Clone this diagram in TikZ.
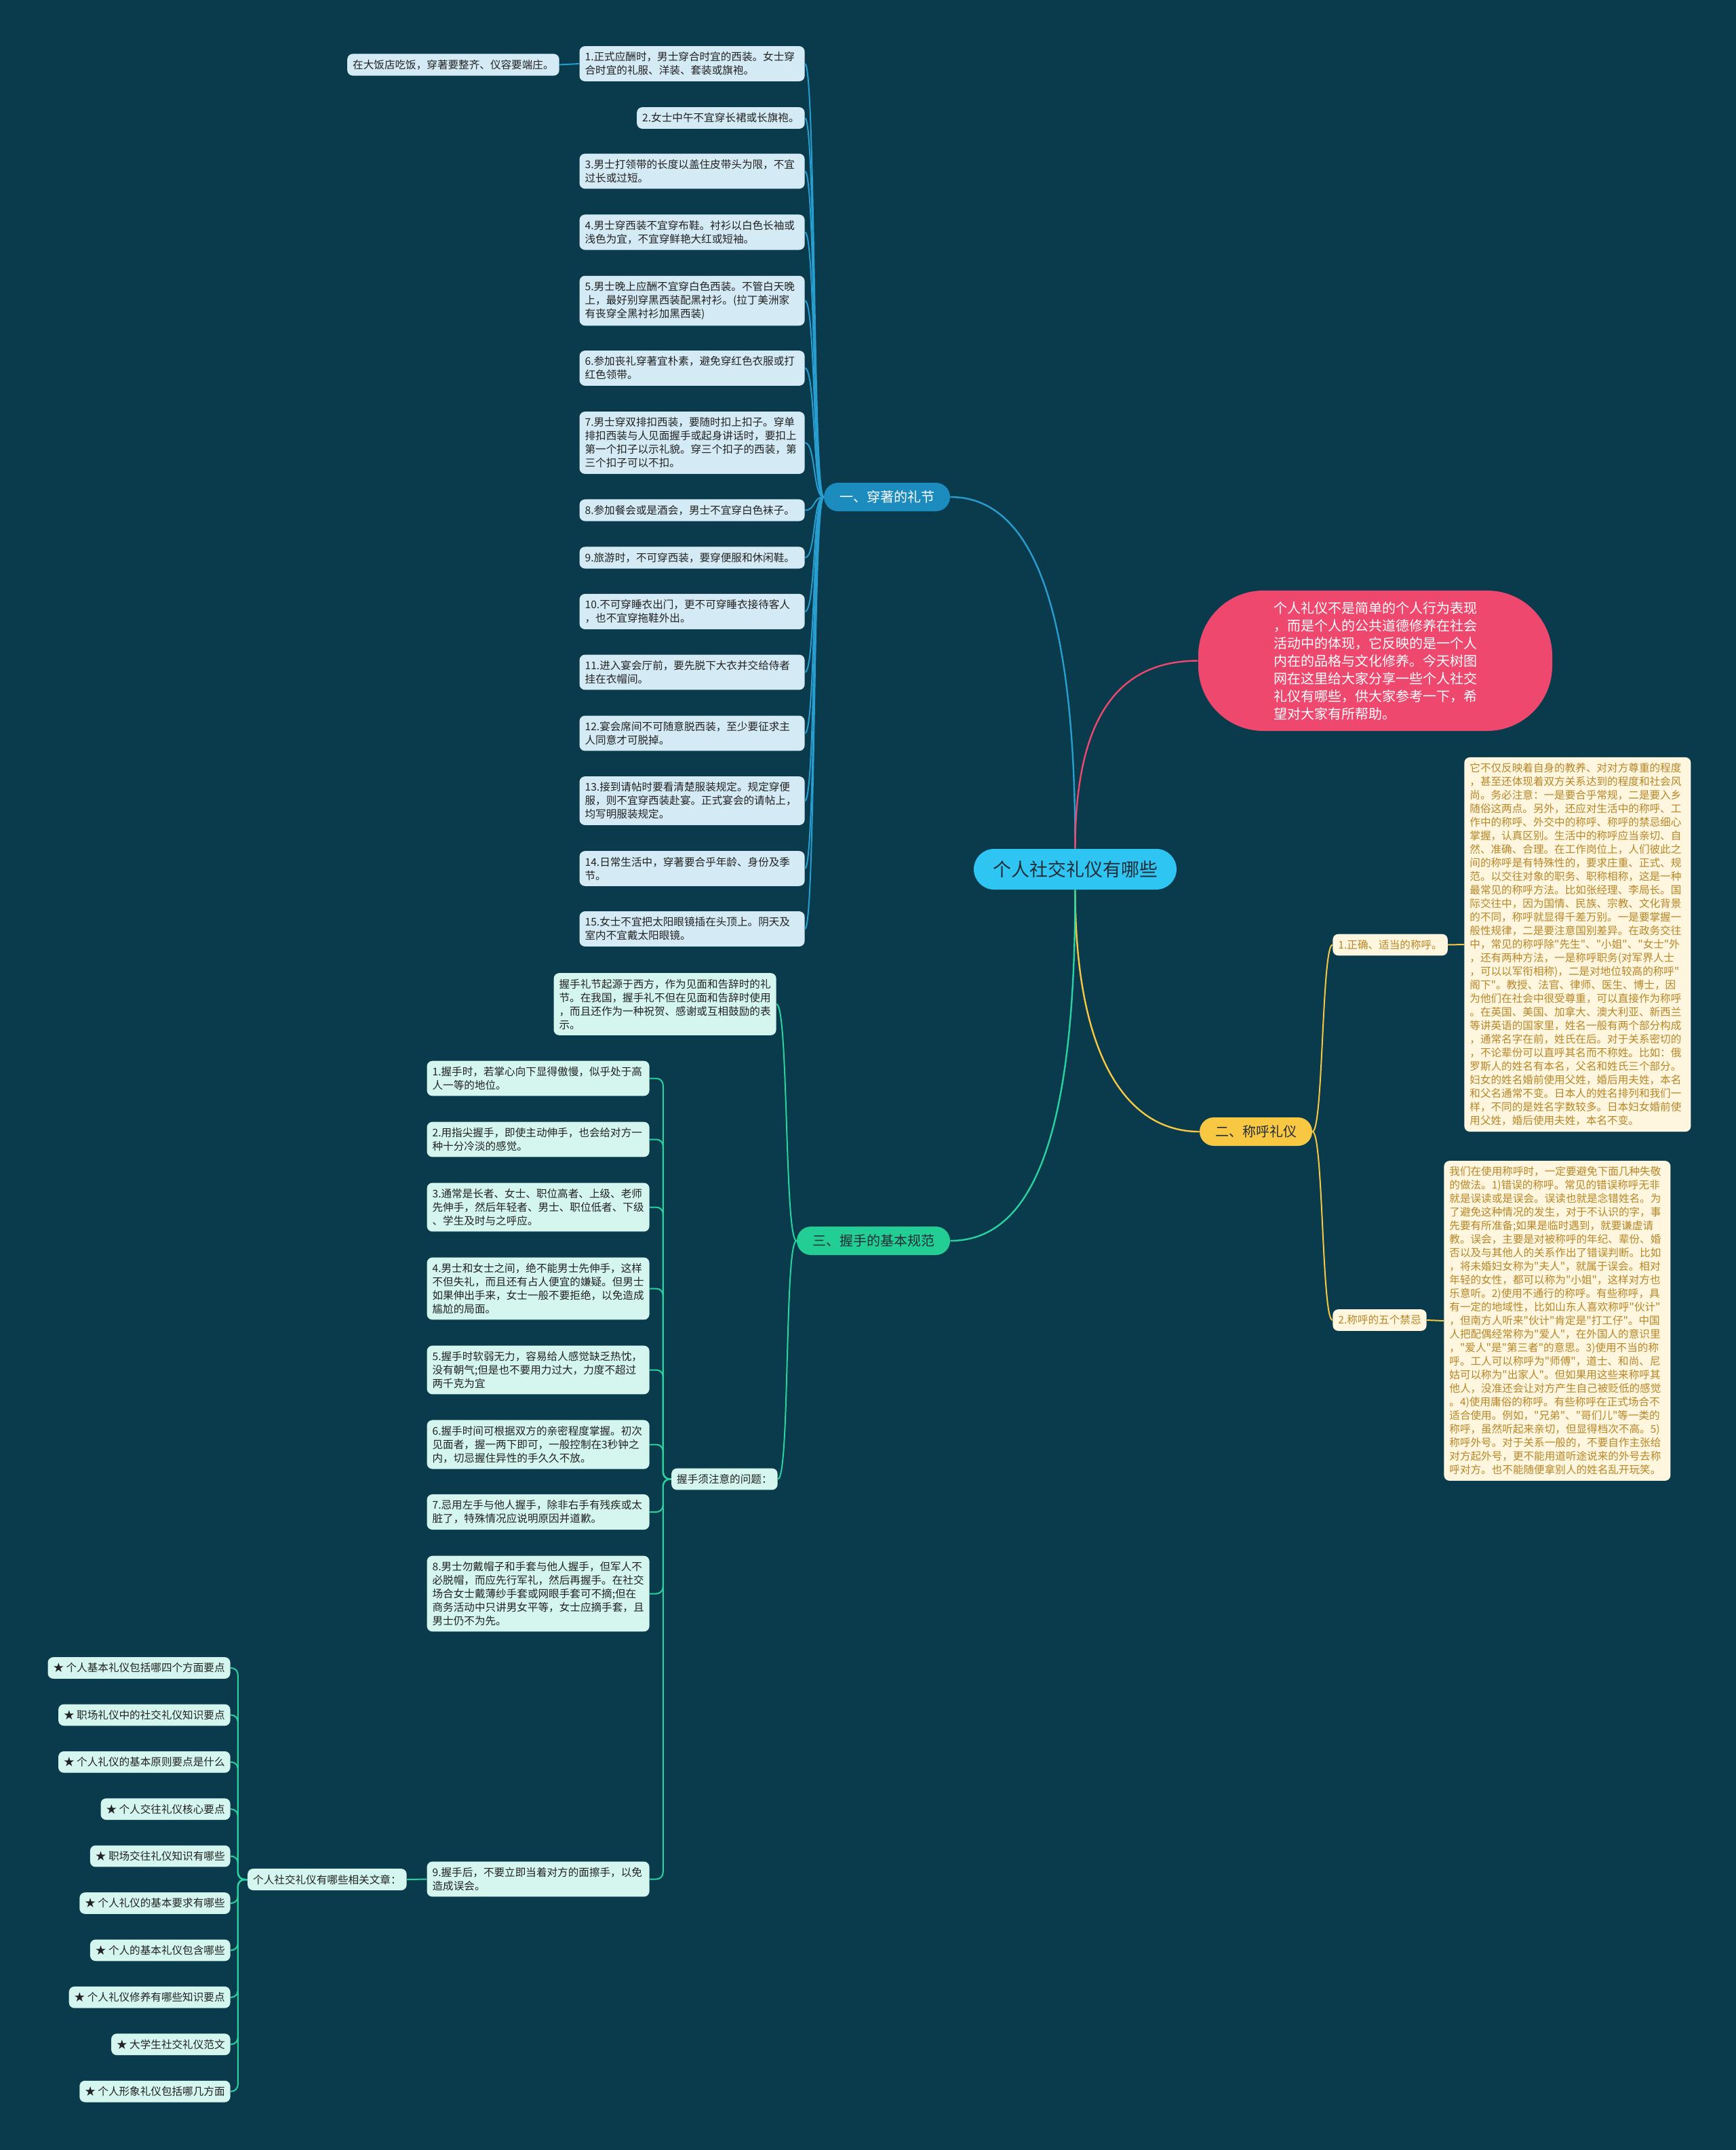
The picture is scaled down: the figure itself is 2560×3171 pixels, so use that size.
\documentclass[tikz,border=0pt]{standalone}
\usepackage{fontspec}
\setmainfont{Noto Sans CJK SC}[Ligatures=TeXOff]
\usetikzlibrary{positioning}
\usepackage{xcolor}
\definecolor{bgcol}{RGB}{9,59,77}
\definecolor{topiccol}{RGB}{46,197,243}
\definecolor{pinkcol}{RGB}{238,72,110}
\definecolor{dresscol}{RGB}{28,140,190}
\definecolor{dresswirecol}{RGB}{40,158,208}
\definecolor{dressfill}{RGB}{212,234,244}
\definecolor{callcol}{RGB}{249,200,67}
\definecolor{callfill}{RGB}{254,246,222}
\definecolor{callink}{RGB}{183,134,40}
\definecolor{shakecol}{RGB}{34,206,148}
\definecolor{shakewirecol}{RGB}{42,210,160}
\definecolor{shakefill}{RGB}{212,246,238}
\definecolor{leafink}{RGB}{34,34,34}
\definecolor{topicink}{RGB}{35,45,55}

\begin{document}
\begin{tikzpicture}[x=0.5pt, y=-0.5pt,
  every node/.style={font=\fontsize{7.8pt}{10pt}\selectfont},
  leafbox/.style={rounded corners=4pt, inner xsep=4pt, inner ysep=4.3pt, align=left},
  dressleaf/.style={leafbox, fill=dressfill, text=leafink},
  dresswide/.style={dressleaf, text width=158pt},
  shakeleaf/.style={leafbox, fill=shakefill, text=leafink},
  shakewide/.style={shakeleaf, text width=156pt},
  callleaf/.style={leafbox, fill=callfill, text=callink},
  callwide/.style={callleaf, text width=159pt},
  branchbox/.style={rounded corners=10.5pt, minimum height=21pt, inner xsep=11.5pt, font=\fontsize{10pt}{12pt}\selectfont},
  dresswire/.style={draw=dresswirecol, line width=1pt},
  callwire/.style={draw=callcol, line width=1pt},
  shakewire/.style={draw=shakewirecol, line width=1pt}]

  \useasboundingbox (0,0) rectangle (2560,3171);
  \fill[bgcol] (0,0) rectangle (2560,3171);

  % centre and summary
  \node[fill=topiccol, text=topicink, rounded corners=15pt, minimum width=149.5pt, minimum height=30pt, font=\fontsize{13.5pt}{16pt}\selectfont] (topic) at (1585.5,1282) {个人社交礼仪有哪些};
  \node[fill=pinkcol, text=white, rounded corners=48pt, minimum width=261pt, minimum height=103.5pt, align=left, font=\fontsize{10pt}{13pt}\selectfont] (summary) at (2028,974.5)
    {个人礼仪不是简单的个人行为表现\\，而是个人的公共道德修养在社会\\活动中的体现，它反映的是一个人\\内在的品格与文化修养。今天树图\\网在这里给大家分享一些个人社交\\礼仪有哪些，供大家参考一下，希\\望对大家有所帮助。};

  % branches
  \node[branchbox, fill=dresscol, text=white] (dress) at (1308,733) {一、穿著的礼节};
  \node[branchbox, fill=callcol, text=topicink] (call) at (1852,1669) {二、称呼礼仪};
  \node[branchbox, fill=shakecol, text=topicink] (shake) at (1288,1830) {三、握手的基本规范};

  \draw[dresswire, line width=1.2pt] (topic.north) .. controls +(0,-330) and +(130,0) .. (dress.east);
  \draw[draw=pinkcol, line width=1.2pt] (topic.north) .. controls +(0,-190) and +(-120,0) .. (summary.west);
  \draw[callwire, line width=1.2pt] (topic.south) .. controls +(0,240) and +(-110,0) .. (call.west);
  \draw[shakewire, line width=1.2pt] (topic.south) .. controls +(0,340) and +(130,0) .. (shake.east);

  % dress leaves
  \node[dresswide, anchor=east] (d1) at (1187,94) {1.正式应酬时，男士穿合时宜的西装。女士穿\\合时宜的礼服、洋装、套装或旗袍。};
  \node[dressleaf, anchor=east] (d2) at (1187,174) {2.女士中午不宜穿长裙或长旗袍。};
  \node[dresswide, anchor=east] (d3) at (1187,252.5) {3.男士打领带的长度以盖住皮带头为限，不宜\\过长或过短。};
  \node[dresswide, anchor=east] (d4) at (1187,342.5) {4.男士穿西装不宜穿布鞋。衬衫以白色长袖或\\浅色为宜，不宜穿鲜艳大红或短袖。};
  \node[dresswide, anchor=east] (d5) at (1187,443.5) {5.男士晚上应酬不宜穿白色西装。不管白天晚\\上，最好别穿黑西装配黑衬衫。(拉丁美洲家\\有丧穿全黑衬衫加黑西装)};
  \node[dresswide, anchor=east] (d6) at (1187,543) {6.参加丧礼穿著宜朴素，避免穿红色衣服或打\\红色领带。};
  \node[dresswide, anchor=east] (d7) at (1187,653) {7.男士穿双排扣西装，要随时扣上扣子。穿单\\排扣西装与人见面握手或起身讲话时，要扣上\\第一个扣子以示礼貌。穿三个扣子的西装，第\\三个扣子可以不扣。};
  \node[dresswide, anchor=east] (d8) at (1187,752.5) {8.参加餐会或是酒会，男士不宜穿白色袜子。};
  \node[dresswide, anchor=east] (d9) at (1187,822.5) {9.旅游时，不可穿西装，要穿便服和休闲鞋。};
  \node[dresswide, anchor=east] (d10) at (1187,902) {10.不可穿睡衣出门，更不可穿睡衣接待客人\\，也不宜穿拖鞋外出。};
  \node[dresswide, anchor=east] (d11) at (1187,991.5) {11.进入宴会厅前，要先脱下大衣并交给侍者\\挂在衣帽间。};
  \node[dresswide, anchor=east] (d12) at (1187,1081.5) {12.宴会席间不可随意脱西装，至少要征求主\\人同意才可脱掉。};
  \node[dresswide, anchor=east] (d13) at (1187,1181) {13.接到请帖时要看清楚服装规定。规定穿便\\服，则不宜穿西装赴宴。正式宴会的请帖上，\\均写明服装规定。};
  \node[dresswide, anchor=east] (d14) at (1187,1281) {14.日常生活中，穿著要合乎年龄、身份及季\\节。};
  \node[dresswide, anchor=east] (d15) at (1187,1370) {15.女士不宜把太阳眼镜插在头顶上。阴天及\\室内不宜戴太阳眼镜。};
  \node[dressleaf, anchor=east] (dine) at (825,95.5) {在大饭店吃饭，穿著要整齐、仪容要端庄。};

  \foreach \n in {1,...,15}
    \draw[dresswire] (dress.west) .. controls +(-16,0) and +(16,0) .. (d\n.east);
  \draw[dresswire] (d1.west) -- (dine.east);

  % calling
  \node[callleaf, anchor=west] (right) at (1965,1393.5) {1.正确、适当的称呼。};
  \node[callleaf, anchor=west] (taboo) at (1965,1947) {2.称呼的五个禁忌};
  \node[callwide, anchor=west] (rightnote) at (2159,1393)
    {它不仅反映着自身的教养、对对方尊重的程度\\，甚至还体现着双方关系达到的程度和社会风\\尚。务必注意：一是要合乎常规，二是要入乡\\随俗这两点。另外，还应对生活中的称呼、工\\作中的称呼、外交中的称呼、称呼的禁忌细心\\掌握，认真区别。生活中的称呼应当亲切、自\\然、准确、合理。在工作岗位上，人们彼此之\\间的称呼是有特殊性的，要求庄重、正式、规\\范。以交往对象的职务、职称相称，这是一种\\最常见的称呼方法。比如张经理、李局长。国\\际交往中，因为国情、民族、宗教、文化背景\\的不同，称呼就显得千差万别。一是要掌握一\\般性规律，二是要注意国别差异。在政务交往\\中，常见的称呼除"先生"、"小姐"、"女士"外\\，还有两种方法，一是称呼职务(对军界人士\\，可以以军衔相称)，二是对地位较高的称呼"\\阁下"。教授、法官、律师、医生、博士，因\\为他们在社会中很受尊重，可以直接作为称呼\\。在英国、美国、加拿大、澳大利亚、新西兰\\等讲英语的国家里，姓名一般有两个部分构成\\，通常名字在前，姓氏在后。对于关系密切的\\，不论辈份可以直呼其名而不称姓。比如：俄\\罗斯人的姓名有本名，父名和姓氏三个部分。\\妇女的姓名婚前使用父姓，婚后用夫姓，本名\\和父名通常不变。日本人的姓名排列和我们一\\样，不同的是姓名字数较多。日本妇女婚前使\\用父姓，婚后使用夫姓，本名不变。};
  \node[callwide, anchor=west] (taboonote) at (2129,1948)
    {我们在使用称呼时，一定要避免下面几种失敬\\的做法。1)错误的称呼。常见的错误称呼无非\\就是误读或是误会。误读也就是念错姓名。为\\了避免这种情况的发生，对于不认识的字，事\\先要有所准备;如果是临时遇到，就要谦虚请\\教。误会，主要是对被称呼的年纪、辈份、婚\\否以及与其他人的关系作出了错误判断。比如\\，将未婚妇女称为"夫人"，就属于误会。相对\\年轻的女性，都可以称为"小姐"，这样对方也\\乐意听。2)使用不通行的称呼。有些称呼，具\\有一定的地域性，比如山东人喜欢称呼"伙计"\\，但南方人听来"伙计"肯定是"打工仔"。中国\\人把配偶经常称为"爱人"，在外国人的意识里\\，"爱人"是"第三者"的意思。3)使用不当的称\\呼。工人可以称呼为"师傅"，道士、和尚、尼\\姑可以称为"出家人"。但如果用这些来称呼其\\他人，没准还会让对方产生自己被贬低的感觉\\。4)使用庸俗的称呼。有些称呼在正式场合不\\适合使用。例如，"兄弟"、"哥们儿"等一类的\\称呼，虽然听起来亲切，但显得档次不高。5)\\称呼外号。对于关系一般的，不要自作主张给\\对方起外号，更不能用道听途说来的外号去称\\呼对方。也不能随便拿别人的姓名乱开玩笑。};

  \draw[callwire] (call.east) .. controls +(16,0) and +(-16,0) .. (right.west);
  \draw[callwire] (call.east) .. controls +(16,0) and +(-16,0) .. (taboo.west);
  \draw[callwire] (right.east) -- (rightnote.west);
  \draw[callwire] (taboo.east) -- (taboonote.west);

  % handshake
  \node[shakewide, anchor=east] (origin) at (1145,1481) {握手礼节起源于西方，作为见面和告辞时的礼\\节。在我国，握手礼不但在见面和告辞时使用\\，而且还作为一种祝贺、感谢或互相鼓励的表\\示。};
  \node[shakeleaf, anchor=east] (mind) at (1147,2181.5) {握手须注意的问题：};
  \draw[shakewire] (shake.west) .. controls +(-18,0) and +(18,0) .. (origin.east);
  \draw[shakewire] (shake.west) .. controls +(-18,0) and +(18,0) .. (mind.east);

  \node[shakewide, anchor=east] (s1) at (958,1590.5) {1.握手时，若掌心向下显得傲慢，似乎处于高\\人一等的地位。};
  \node[shakewide, anchor=east] (s2) at (958,1680.5) {2.用指尖握手，即使主动伸手，也会给对方一\\种十分冷淡的感觉。};
  \node[shakewide, anchor=east] (s3) at (958,1780.5) {3.通常是长者、女士、职位高者、上级、老师\\先伸手，然后年轻者、男士、职位低者、下级\\、学生及时与之呼应。};
  \node[shakewide, anchor=east] (s4) at (958,1900.5) {4.男士和女士之间，绝不能男士先伸手，这样\\不但失礼，而且还有占人便宜的嫌疑。但男士\\如果伸出手来，女士一般不要拒绝，以免造成\\尴尬的局面。};
  \node[shakewide, anchor=east] (s5) at (958,2020.5) {5.握手时软弱无力，容易给人感觉缺乏热忱，\\没有朝气;但是也不要用力过大，力度不超过\\两千克为宜};
  \node[shakewide, anchor=east] (s6) at (958,2130.5) {6.握手时间可根据双方的亲密程度掌握。初次\\见面者，握一两下即可，一般控制在3秒钟之\\内，切忌握住异性的手久久不放。};
  \node[shakewide, anchor=east] (s7) at (958,2230) {7.忌用左手与他人握手，除非右手有残疾或太\\脏了，特殊情况应说明原因并道歉。};
  \node[shakewide, anchor=east] (s8) at (958,2350.5) {8.男士勿戴帽子和手套与他人握手，但军人不\\必脱帽，而应先行军礼，然后再握手。在社交\\场合女士戴薄纱手套或网眼手套可不摘;但在\\商务活动中只讲男女平等，女士应摘手套，且\\男士仍不为先。};
  \node[shakewide, anchor=east] (s9) at (958,2771.5) {9.握手后，不要立即当着对方的面擦手，以免\\造成误会。};

  \foreach \n in {1,...,9}
    \draw[shakewire, rounded corners=5pt] (mind.west) -- ++(-12,0) |- (s\n.east);

  % related articles
  \node[shakeleaf, anchor=east] (related) at (600,2772) {个人社交礼仪有哪些相关文章：};
  \draw[shakewire] (s9.west) -- (related.east);

  \node[shakeleaf, anchor=east] (a1) at (340,2460) {★ 个人基本礼仪包括哪四个方面要点};
  \node[shakeleaf, anchor=east] (a2) at (340,2529.4) {★ 职场礼仪中的社交礼仪知识要点};
  \node[shakeleaf, anchor=east] (a3) at (340,2598.8) {★ 个人礼仪的基本原则要点是什么};
  \node[shakeleaf, anchor=east] (a4) at (340,2668.2) {★ 个人交往礼仪核心要点};
  \node[shakeleaf, anchor=east] (a5) at (340,2737.6) {★ 职场交往礼仪知识有哪些};
  \node[shakeleaf, anchor=east] (a6) at (340,2807) {★ 个人礼仪的基本要求有哪些};
  \node[shakeleaf, anchor=east] (a7) at (340,2876.4) {★ 个人的基本礼仪包含哪些};
  \node[shakeleaf, anchor=east] (a8) at (340,2945.8) {★ 个人礼仪修养有哪些知识要点};
  \node[shakeleaf, anchor=east] (a9) at (340,3015.2) {★ 大学生社交礼仪范文};
  \node[shakeleaf, anchor=east] (a10) at (340,3084.6) {★ 个人形象礼仪包括哪几方面};

  \foreach \n in {1,...,10}
    \draw[shakewire, rounded corners=5pt] (related.west) -- ++(-14,0) |- (a\n.east);
\end{tikzpicture}
\end{document}
